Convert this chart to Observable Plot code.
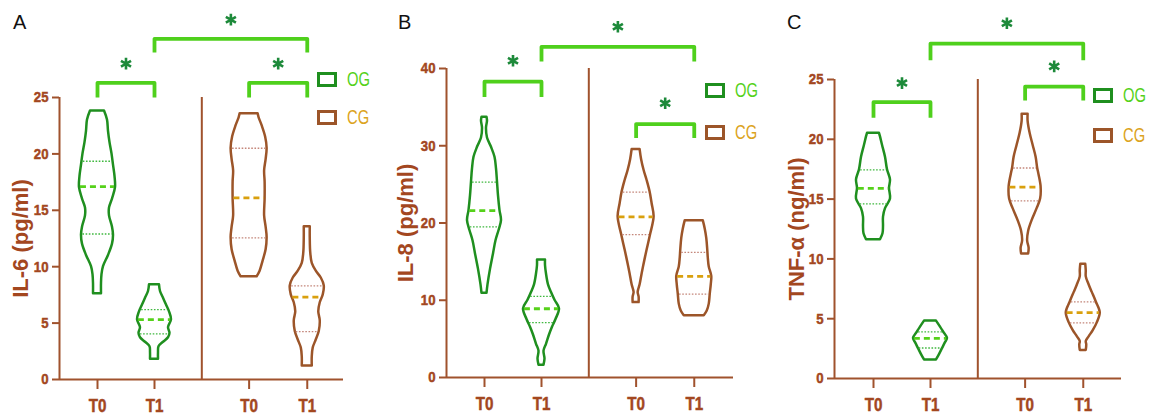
<!DOCTYPE html>
<html>
<head>
<meta charset="utf-8">
<script src="https://cdn.jsdelivr.net/npm/d3@7"></script>
<script src="https://cdn.jsdelivr.net/npm/@observablehq/plot@0.6"></script>
<style>
  html, body { margin: 0; padding: 0; background: #ffffff; }
  #wrap { position: relative; width: 1154px; height: 419px; overflow: hidden; background: #fff; }
  .panelsvg { position: absolute; top: 0; }
  .letter { position: absolute; font-family: "Liberation Sans", Arial, sans-serif; font-size: 20px; line-height: 20px; color: #111; }
  .leg { position: absolute; display: flex; align-items: center; height: 16px; }
  .leg .box { width: 14px; height: 9px; border: 3px solid; box-sizing: content-box; margin-right: 10px; }
  .leg .lab { font-family: "Liberation Sans", Arial, sans-serif; font-size: 18px; line-height: 16px; display: inline-block; transform-origin: 0 50%; transform: scale(0.82, 1.12); }
</style>
</head>
<body>
<div id="wrap"></div>
<script>
// ---------------- DATA ----------------
const groups = ["OG T0", "OG T1", "CG T0", "CG T1"];
const tickLabels = ["T0", "T1", "T0", "T1"];
const legendLabels = ["OG", "CG"];
const panelLetters = ["A", "B", "C"];
const yLabels = ["IL-6 (pg/ml)", "IL-8 (pg/ml)", "TNF-\u03b1 (ng/ml)"];
const yMax = [25, 40, 25];
const yTickStep = [5, 10, 5];

// violin outlines: [value, relative density]
const il6_OG_T0 = [[7.6,4],[8.5,4],[9.3,4.5],[10.0,6],[11.0,11],[12.0,15],[12.8,16],[13.5,15],[14.5,12],[15.2,12],[16.0,15],[17.0,18],[18.0,17.5],[19.0,16],[20.0,14.5],[21.0,12.5],[22.0,11],[23.0,10],[23.8,7]];
const il6_OG_T1 = [[1.8,4],[2.4,4],[2.9,4.5],[3.3,9],[3.7,14],[4.1,15.5],[4.6,14],[5.3,17],[6.0,15],[6.6,12],[7.2,9],[7.8,6],[8.4,5]];
const il6_CG_T0 = [[9.1,8],[9.6,11],[10.5,14],[11.5,17],[12.6,18],[13.5,17],[14.5,15.5],[16.0,16],[17.5,16],[18.5,15.5],[19.5,17],[20.5,18],[21.5,16.5],[22.5,13],[23.2,10],[23.55,9]];
const il6_CG_T1 = [[1.2,5],[2.0,5],[2.8,6],[3.5,9],[4.25,12],[5.2,13],[6.0,11.5],[6.8,13],[7.5,16],[8.3,17],[9.0,14],[9.6,9],[10.3,5],[11.2,3.5],[12.5,3],[13.55,3]];

const il8_OG_T0 = [[10.9,2.5],[12,3.5],[14,6],[16,9],[17.7,11.5],[19,14.5],[20.3,17],[21.6,15.5],[23.5,14],[25.3,13],[27,12],[28.5,10.5],[29.8,7],[31,3],[32.3,2],[33.2,3],[33.7,2.5]];
const il8_OG_T1 = [[1.6,2.5],[2.4,3.5],[3.4,2.5],[4.3,5],[5.5,8],[6.5,11],[7.5,14.5],[8.9,18],[10.0,13.5],[11,10],[12,7],[13.4,5],[14.5,4],[15.2,4]];
const il8_CG_T0 = [[9.7,3],[10.4,3],[11.0,2],[12,4],[13.4,6],[15,8.5],[16.5,11],[18.5,14.5],[20.8,18],[22.5,16],[24,14],[25.5,11],[26.8,8],[28.2,5.5],[29.5,4]];
const il8_CG_T1 = [[8.0,10],[8.6,13],[9.5,15],[10.8,16],[12,17],[13.1,17.5],[14.3,15],[15.5,14],[16.5,13.5],[18,12.5],[19.2,11],[20.3,9]];

const tnf_OG_T0 = [[11.6,7],[12.1,9.5],[12.7,10],[13.5,10],[14.2,12],[15.0,17],[15.9,16],[16.6,17],[17.45,14],[18.5,12],[19.5,9],[20.2,7],[20.5,6]];
const tnf_OG_T1 = [[1.55,6],[2.0,9],[2.5,12],[3.0,15],[3.35,17],[3.9,13],[4.3,10],[4.8,6]];
const tnf_CG_T0 = [[10.4,3.5],[10.9,4],[11.5,2.5],[12.3,3.5],[13.2,7],[14.2,12],[15.0,15.5],[16.0,16],[17.0,14],[17.6,12.5],[18.5,11],[19.5,8],[20.5,5],[21.5,3],[22.1,3]];
const tnf_CG_T1 = [[2.35,3],[2.8,3.5],[3.1,3],[3.5,6],[4.0,10],[4.65,14],[5.5,17],[6.4,13],[7.2,9],[7.8,6],[8.5,3],[9.0,3],[9.55,2.5]];

// quartiles [Q1, median, Q3] per group
const il6_quartiles = [[12.9,17.1,19.35],[4.05,5.3,6.2],[12.55,16.1,20.5],[4.25,7.3,8.3]];
const il8_quartiles = [[19.5,21.6,25.3],[7.1,8.9,10.5],[18.5,20.8,24.0],[10.8,13.1,16.2]];
const tnf_quartiles = [[14.6,15.9,17.45],[2.55,3.35,3.9],[14.85,16.0,17.6],[4.65,5.5,6.4]];

// significance brackets: [groupA, groupB, bracket level, leg end, star level]
const il6_brackets = [[0,1,26.3,25.0,28.0],[1,3,30.2,29.0,31.9],[2,3,26.3,25.0,28.0]];
const il8_brackets = [[0,1,38.3,36.3,41.0],[1,3,42.8,40.9,45.4],[2,3,32.8,31.0,35.5]];
const tnf_brackets = [[0,1,23.1,21.8,24.7],[1,3,28.0,26.6,29.7],[2,3,24.4,23.25,26.1]];

// ---------------- LAYOUT / STYLE ----------------
const POS = [1, 2, 3.66, 4.68];      // x positions of the four groups
const DIVIDER = 2.83;
const PX_PER_UNIT = 57;
const BROWN = "#a0522d";
const TEXT_BROWN = "#a3471f";
const OG_STROKE = "#1f8f1f";
const CG_STROKE = "#9c5529";
const OG_MED = "#55d11a";
const CG_MED = "#d9a00e";
const OG_Q = "#3fb83f";
const CG_Q = "#c4867a";
const LIME = "#4fd01c";
const STAR = "#1d8a3a";
const SANS = '"Liberation Sans", Arial, sans-serif';

const panels = [
  {left: 0,   width: 385, ml: 59, mr: 42, mt: 97, mb: 40, labelDx: -39, lead: 38,
   profiles: [il6_OG_T0, il6_OG_T1, il6_CG_T0, il6_CG_T1], quart: il6_quartiles, brackets: il6_brackets,
   legend: {x: 317, y1: 71, y2: 109}, letter: {x: 13, y: 12}},
  {left: 385, width: 385, ml: 61, mr: 37, mt: 68, mb: 42, labelDx: -41, lead: 38,
   profiles: [il8_OG_T0, il8_OG_T1, il8_CG_T0, il8_CG_T1], quart: il8_quartiles, brackets: il8_brackets,
   legend: {x: 705, y1: 82, y2: 124}, letter: {x: 398, y: 12}},
  {left: 764, width: 390, ml: 70, mr: 33, mt: 79, mb: 41, labelDx: -38, lead: 39,
   profiles: [tnf_OG_T0, tnf_OG_T1, tnf_CG_T0, tnf_CG_T1], quart: tnf_quartiles, brackets: tnf_brackets,
   legend: {x: 1093, y1: 87, y2: 127}, letter: {x: 787, y: 12}}
];

function densAt(profile, v) {
  for (let i = 0; i < profile.length - 1; i++) {
    const [v0, d0] = profile[i], [v1, d1] = profile[i + 1];
    if (v >= v0 && v <= v1) return d0 + (d1 - d0) * (v - v0) / (v1 - v0);
  }
  return profile[profile.length - 1][1];
}

// tick label styling: size, weight and narrowed glyphs (Arial Narrow look)
function styleTicks(svg) {
  svg.querySelectorAll("g[aria-label]").forEach(g => {
    const lab = g.getAttribute("aria-label");
    const isX = /^x-axis/.test(lab), isY = /^y-axis/.test(lab);
    if (!isX && !isY) return;
    const size = isX ? 19 : 15.5, sx = isX ? 0.8 : 0.85;
    g.querySelectorAll("text").forEach(t => {
      t.style.fontSize = size + "px";
      t.style.fontWeight = "bold";
      t.style.fontFamily = SANS;
      t.setAttribute("stroke", TEXT_BROWN);
      t.setAttribute("stroke-width", "0.5");
      let tr = t.getAttribute("transform");
      if (!tr) {
        const xa = t.getAttribute("x"), ya = t.getAttribute("y");
        const xv = xa && !isNaN(+xa) ? +xa : 0, yv = ya && !isNaN(+ya) ? +ya : 0;
        if (xa && !isNaN(+xa)) t.removeAttribute("x");
        if (ya && !isNaN(+ya)) t.removeAttribute("y");
        tr = `translate(${xv},${yv})`;
      }
      t.setAttribute("transform", tr + ` scale(${sx},1)`);
    });
  });
}

const wrap = document.getElementById("wrap");

panels.forEach((p, pi) => {
  const rangePx = p.width - p.ml - p.mr;
  const x0 = POS[0] - p.lead / PX_PER_UNIT;
  const xDomain = [x0, x0 + rangePx / PX_PER_UNIT];
  const W = 1 / PX_PER_UNIT;
  const ticks = d3.range(0, yMax[pi] + 0.001, yTickStep[pi]);
  const labelFor = new Map(POS.map((v, i) => [v, tickLabels[i]]));

  const marks = [];
  marks.push(Plot.ruleY([0], {x1: xDomain[0], x2: xDomain[1], stroke: BROWN, strokeWidth: 2}));
  marks.push(Plot.ruleX([xDomain[0]], {y1: 0, y2: yMax[pi], stroke: BROWN, strokeWidth: 2}));
  marks.push(Plot.ruleX([DIVIDER], {y1: 0, y2: yMax[pi], stroke: BROWN, strokeWidth: 2}));
  marks.push(Plot.axisY({ticks, tickSize: 7, tickPadding: 4, strokeWidth: 2, label: null,
    fontSize: 15.5, fontWeight: "bold", color: TEXT_BROWN, stroke: BROWN}));
  marks.push(Plot.axisX({ticks: POS, tickFormat: d => labelFor.get(d), tickSize: 10, tickPadding: 9, strokeWidth: 2, label: null,
    fontSize: 19, fontWeight: "bold", color: TEXT_BROWN, stroke: BROWN}));

  p.profiles.forEach((prof, g) => {
    const isOG = g < 2;
    marks.push(Plot.areaX(prof, {
      y: d => d[0], x1: d => POS[g] - d[1] * W, x2: d => POS[g] + d[1] * W,
      curve: "catmull-rom", fill: "none", stroke: isOG ? OG_STROKE : CG_STROKE, strokeWidth: 2.5
    }));
    const q = p.quart[g];
    const qs = [q[0], q[2]].map(v => ({v, d: densAt(prof, v) * 0.92}));
    marks.push(Plot.ruleY(qs, {y: "v", x1: d => POS[g] - d.d * W, x2: d => POS[g] + d.d * W,
      stroke: isOG ? OG_Q : CG_Q, strokeWidth: 1.3, strokeDasharray: "1.6,1.6"}));
    const md = [{v: q[1], d: densAt(prof, q[1]) * 0.95}];
    marks.push(Plot.ruleY(md, {y: "v", x1: d => POS[g] - d.d * W, x2: d => POS[g] + d.d * W,
      stroke: isOG ? OG_MED : CG_MED, strokeWidth: 2.8, strokeDasharray: "6,4"}));
  });

  const bpts = p.brackets.flatMap(([a, b, top, base], k) => [
    {k, x: POS[a], y: base}, {k, x: POS[a], y: top}, {k, x: POS[b], y: top}, {k, x: POS[b], y: base}
  ]);
  marks.push(Plot.line(bpts, {x: "x", y: "y", z: "k", stroke: LIME, strokeWidth: 3.8, strokeLinejoin: "round", strokeLinecap: "butt"}));
  marks.push(Plot.dot(p.brackets, {x: d => (POS[d[0]] + POS[d[1]]) / 2, y: d => d[4], symbol: "asterisk", r: 5.5, stroke: STAR, strokeWidth: 2.6}));

  marks.push(Plot.text([yLabels[pi]], {frameAnchor: "left", dx: p.labelDx, rotate: -90, text: d => d,
    fontSize: 22, fontWeight: "bold", fontFamily: SANS, fill: TEXT_BROWN,
    textAnchor: "middle", lineAnchor: "middle"}));

  const svg = Plot.plot({
    width: p.width, height: 419,
    marginLeft: p.ml, marginRight: p.mr, marginTop: p.mt, marginBottom: p.mb,
    x: {type: "linear", domain: xDomain},
    y: {type: "linear", domain: [0, yMax[pi]]},
    style: {background: "transparent", overflow: "visible", color: TEXT_BROWN, fontWeight: "bold", fontFamily: SANS},
    marks
  });
  styleTicks(svg);
  svg.classList.add("panelsvg");
  svg.style.left = p.left + "px";
  svg.style.position = "absolute";
  svg.style.top = "0px";
  wrap.appendChild(svg);

  const L = document.createElement("div");
  L.className = "letter";
  L.textContent = panelLetters[pi];
  L.style.left = p.letter.x + "px";
  L.style.top = p.letter.y + "px";
  wrap.appendChild(L);

  [[p.legend.y1, OG_STROKE, OG_MED, legendLabels[0]], [p.legend.y2, CG_STROKE, "#dca321", legendLabels[1]]].forEach(([y, bc, tc, txt]) => {
    const row = document.createElement("div");
    row.className = "leg";
    row.style.left = p.legend.x + "px";
    row.style.top = y + "px";
    const box = document.createElement("span");
    box.className = "box";
    box.style.borderColor = bc;
    const lab = document.createElement("span");
    lab.className = "lab";
    lab.style.color = tc;
    lab.textContent = txt;
    row.appendChild(box);
    row.appendChild(lab);
    wrap.appendChild(row);
  });
});
</script>
</body>
</html>
